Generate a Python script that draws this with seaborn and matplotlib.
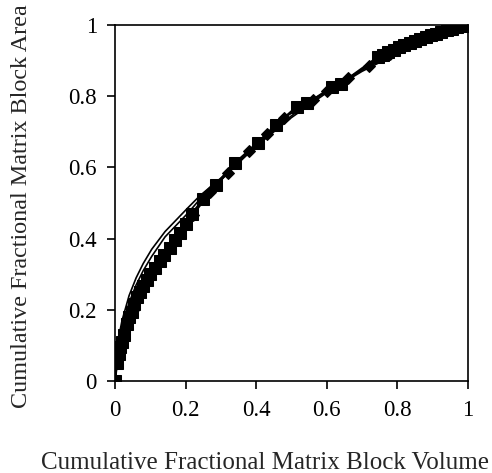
import matplotlib
matplotlib.use("Agg")
import matplotlib.pyplot as plt
import numpy as np
import pandas as pd
import seaborn as sb

# curves
sq_x = [0, 0.005, 0.01, 0.015, 0.02, 0.026, 0.033, 0.04, 0.047, 0.055, 0.063, 0.071,
        0.08, 0.09, 0.1, 0.113, 0.127, 0.14, 0.155, 0.17, 0.183, 0.2, 0.218, 0.25,
        0.285, 0.34, 0.405, 0.455, 0.515, 0.545, 0.615, 0.64, 0.745, 0.76, 0.775,
        0.79, 0.805, 0.82, 0.835, 0.85, 0.865, 0.88, 0.895, 0.91, 0.925, 0.94,
        0.955, 0.97, 0.985, 1.0]
sq_y = [0, 0.05, 0.075, 0.095, 0.11, 0.13, 0.16, 0.18, 0.195, 0.215, 0.235, 0.25,
        0.268, 0.283, 0.3, 0.318, 0.338, 0.355, 0.375, 0.395, 0.415, 0.44, 0.47, 0.51,
        0.55, 0.612, 0.67, 0.718, 0.77, 0.78, 0.825, 0.835, 0.91, 0.916, 0.923,
        0.93, 0.937, 0.943, 0.949, 0.955, 0.96, 0.966, 0.971, 0.976, 0.981, 0.986,
        0.99, 0.994, 0.997, 1.0]

dm_x = [0, 0.01, 0.025, 0.05, 0.08, 0.12, 0.17, 0.22, 0.27, 0.32, 0.38, 0.43,
        0.48, 0.56, 0.6, 0.66, 0.72, 0.78, 0.84, 0.9, 0.95, 1.0]
dm_y = [0, 0.08, 0.14, 0.2, 0.26, 0.325, 0.395, 0.465, 0.53, 0.585, 0.645, 0.695,
        0.74, 0.79, 0.815, 0.85, 0.885, 0.92, 0.95, 0.975, 0.99, 1.0]

ln_x = [0, 0.01, 0.02, 0.04, 0.06, 0.08, 0.104, 0.142, 0.205, 0.24, 0.3, 0.4,
        0.5, 0.6, 0.7, 0.8, 0.9, 1.0]
ln1_y = [0, 0.12, 0.17, 0.24, 0.29, 0.33, 0.37, 0.42, 0.485, 0.52, 0.57, 0.66,
         0.74, 0.81, 0.87, 0.92, 0.965, 1.0]
ln2_y = [0, 0.1, 0.15, 0.22, 0.27, 0.31, 0.35, 0.405, 0.47, 0.51, 0.565, 0.66,
         0.745, 0.815, 0.875, 0.925, 0.967, 1.0]

sb.set_style("ticks")
plt.rcParams['font.family'] = ['Liberation Serif', 'DejaVu Serif']

fig = plt.figure(figsize=(4.92, 4.73), dpi=100)
ax = fig.add_axes([0.2337, 0.1945, 0.7173, 0.7525])

sb.lineplot(x=ln_x, y=ln1_y, ax=ax, color='black', lw=1.2, sort=False)
sb.lineplot(x=ln_x, y=ln2_y, ax=ax, color='black', lw=1.2, sort=False)
sb.lineplot(x=dm_x, y=dm_y, ax=ax, color='black', lw=1.2, sort=False,
            marker='D', markersize=6, markeredgecolor='black')
sb.lineplot(x=sq_x, y=sq_y, ax=ax, color='black', lw=1.8, sort=False,
            marker='s', markersize=8, markeredgecolor='black')

ax.set_xlim(0, 1)
ax.set_ylim(0, 1)
ax.set_xticks([0, 0.2, 0.4, 0.6, 0.8, 1])
ax.set_xticklabels(['0', '0.2', '0.4', '0.6', '0.8', '1'])
ax.set_yticks([0, 0.2, 0.4, 0.6, 0.8, 1])
ax.set_yticklabels(['0', '0.2', '0.4', '0.6', '0.8', '1'])
for s in ax.spines.values():
    s.set_visible(True)
    s.set_color('black')
    s.set_linewidth(1.2)
ax.tick_params(labelsize=16.5, length=6, width=1.2, color='black', labelcolor='black')
ax.tick_params(axis='x', pad=8)
ax.tick_params(axis='y', pad=7)
ax.set_xlabel("Cumulative Fractional Matrix Block Volume", fontsize=18)
ax.set_ylabel("Cumulative Fractional Matrix Block Area", fontsize=17.4)
ax.xaxis.set_label_coords(0.426, -0.199)
ax.yaxis.set_label_coords(-0.235, 0.49)

plt.savefig('out.png', dpi=100)
